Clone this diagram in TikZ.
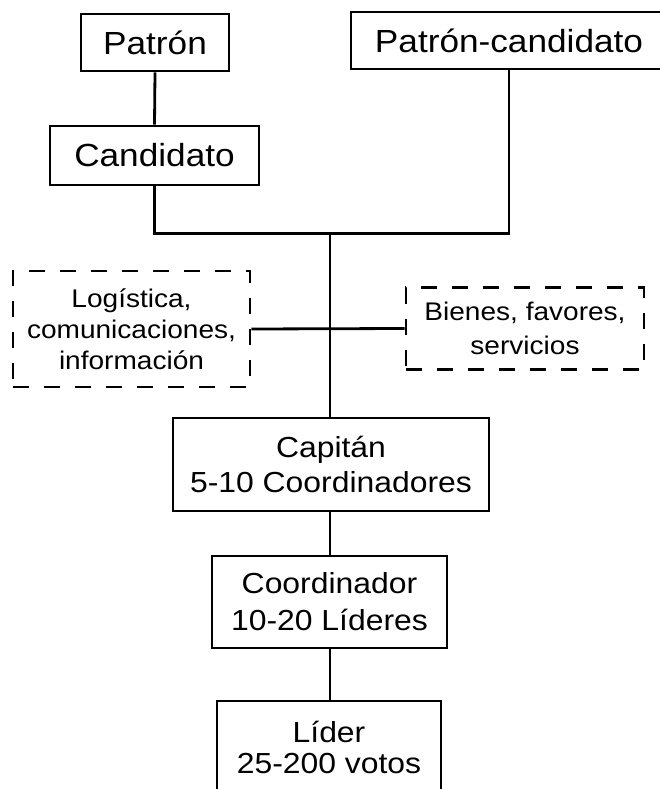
\documentclass[tikz,border=0pt]{standalone}
\usepackage{fontspec}
\setmainfont{Liberation Sans}[FakeStretch=1.1]
\begin{document}
\begin{tikzpicture}[x=1pt,y=-1pt,
  box/.style={draw, line width=2.8pt, inner sep=0pt, align=center},
  dbox/.style={box, dash pattern=on 16pt off 15pt},
  conn/.style={line width=2.8pt}]
\clip (0,0) rectangle (660,789);
\fill[white] (0,0) rectangle (660,789);
\node[box, minimum width=148pt, minimum height=57pt, font=\fontsize{32}{38}\selectfont] (pat) at (155,42.5) {Patrón};
\node[box, minimum width=316pt, minimum height=57pt, font=\fontsize{32}{38}\selectfont] (pc) at (509,40.5) {Patrón-candidato};
\node[box, minimum width=209pt, minimum height=59pt, font=\fontsize{32}{38}\selectfont] (cand) at (154.5,155.5) {Candidato};
\node[dbox, minimum width=237pt, minimum height=116pt, font=\fontsize{25.5}{31}\selectfont] (log) at (131.5,329) {Logística,\\comunicaciones,\\información};
\node[dbox, minimum width=238pt, minimum height=82pt, font=\fontsize{25.5}{34}\selectfont] (bie) at (525,328.5) {Bienes, favores,\\servicios};
\node[box, minimum width=316pt, minimum height=93pt, font=\fontsize{29}{35}\selectfont] (cap) at (331,464.5) {Capitán\\5-10 Coordinadores};
\node[box, minimum width=235pt, minimum height=92pt, font=\fontsize{29}{37}\selectfont] (coo) at (329.5,602) {Coordinador\\10-20 Líderes};
\node[box, minimum width=224pt, minimum height=92pt, font=\fontsize{29}{31}\selectfont] (lid) at (329,747) {Líder\\25-200 votos};
\coordinate (j) at (330,233.5);
\draw[conn] (pat.south) -- (cand.north);
\draw[conn] (cand.south) |- (j);
\draw[conn] (pc.south) |- (j);
\draw[conn] (j) -- (cap.north -| j);
\draw[conn] (log.east) -- (bie.west);
\draw[conn] (cap.south -| j) -- (coo.north -| j);
\draw[conn] (coo.south -| j) -- (lid.north -| j);
\end{tikzpicture}
\end{document}
